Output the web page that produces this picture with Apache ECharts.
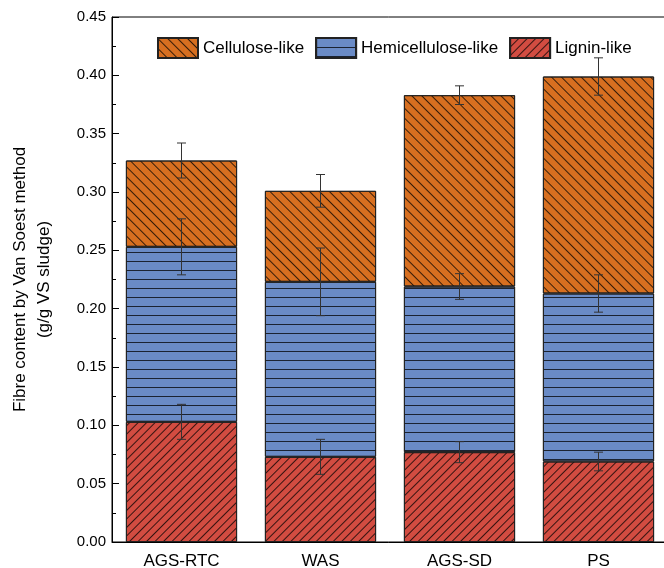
<!DOCTYPE html>
<html>
<head>
<meta charset="utf-8">
<script src="https://cdn.jsdelivr.net/npm/echarts@6/dist/echarts.min.js"></script>
<style>
    html, body { margin: 0; padding: 0; background: #fff; }
    #chart { width: 664px; height: 568px; }
</style>
</head>
<body>
<div id="chart"></div>
<script>
    // samples and stacked fractions (g/g VS sludge)
    var categories = ['AGS-RTC', 'WAS', 'AGS-SD', 'PS'];
    var lignin = [0.103, 0.073, 0.077, 0.069];
    var hemicellulose = [0.150, 0.150, 0.142, 0.144];
    var cellulose = [0.074, 0.078, 0.164, 0.186];
    // standard deviations, drawn at the top of each segment
    var ligninErr = [0.015, 0.015, 0.009, 0.008];
    var hemicelluloseErr = [0.024, 0.029, 0.011, 0.016];
    var celluloseErr = [0.015, 0.014, 0.008, 0.016];

    var FONT = 'Liberation Sans';

    // error bars sit on the cumulative top of each stacked segment
    var errData = [];
    categories.forEach(function (c, i) {
        var t1 = lignin[i];
        var t2 = t1 + hemicellulose[i];
        var t3 = t2 + cellulose[i];
        errData.push([i, t1 - ligninErr[i], t1 + ligninErr[i]]);
        errData.push([i, t2 - hemicelluloseErr[i], t2 + hemicelluloseErr[i]]);
        errData.push([i, t3 - celluloseErr[i], t3 + celluloseErr[i]]);
    });

    function stripes(gap, rot) {
        return {
            symbol: 'rect',
            symbolSize: 1,
            color: 'rgba(0,0,0,0.75)',
            dashArrayX: [1, 0],
            dashArrayY: [1, gap],
            rotation: rot
        };
    }

    var chart = echarts.init(document.getElementById('chart'));
    var option = {
        animation: false,
        backgroundColor: '#fff',
        textStyle: { fontFamily: FONT },
        grid: {
            left: 112,
            top: 17,
            width: 556,
            bottom: 26,
            outerBoundsMode: 'none',
            containLabel: false,
            show: true,
            borderColor: '#000',
            borderWidth: 1
        },
        legend: {
            left: 152,
            top: 32,
            icon: 'rect',
            itemWidth: 40,
            itemHeight: 20,
            itemGap: 11,
            data: ['Cellulose-like', 'Hemicellulose-like', 'Lignin-like'],
            textStyle: { fontFamily: FONT, fontSize: 17, color: '#000', padding: [0, 0, 0, 0] }
        },
        xAxis: {
            type: 'category',
            data: categories,
            axisLine: { lineStyle: { color: '#000', width: 1 } },
            axisTick: { show: false },
            axisLabel: { fontFamily: FONT, fontSize: 17, color: '#000', margin: 11 }
        },
        yAxis: {
            type: 'value',
            min: 0,
            max: 0.45,
            interval: 0.05,
            name: 'Fibre content by Van Soest method\n(g/g VS sludge)',
            nameLocation: 'middle',
            nameGap: 56,
            nameTextStyle: { fontFamily: FONT, fontSize: 17, color: '#000', lineHeight: 24 },
            axisLine: { show: true, lineStyle: { color: '#000', width: 1 } },
            axisTick: { show: true, inside: true, length: 7, lineStyle: { color: '#000' } },
            minorTick: { show: true, splitNumber: 2, length: 4, lineStyle: { color: '#000' } },
            splitLine: { show: false },
            axisLabel: {
                fontFamily: FONT, fontSize: 15, color: '#000', margin: 6,
                formatter: function (v) { return v.toFixed(2); }
            }
        },
        series: [
            {
                name: 'Lignin-like',
                type: 'bar',
                stack: 'fibre',
                barWidth: '80%',
                data: lignin,
                itemStyle: {
                    color: '#d24c41',
                    borderColor: '#222',
                    borderWidth: 1,
                    decal: stripes(5, -Math.PI / 4)
                }
            },
            {
                name: 'Hemicellulose-like',
                type: 'bar',
                stack: 'fibre',
                data: hemicellulose,
                itemStyle: {
                    color: '#6a8bc6',
                    borderColor: '#222',
                    borderWidth: 1,
                    decal: stripes(7.3, 0)
                }
            },
            {
                name: 'Cellulose-like',
                type: 'bar',
                stack: 'fibre',
                data: cellulose,
                itemStyle: {
                    color: '#d76f20',
                    borderColor: '#222',
                    borderWidth: 1,
                    decal: stripes(6, Math.PI / 4)
                }
            },
            {
                type: 'custom',
                name: 'err',
                z: 10,
                data: errData,
                renderItem: function (params, api) {
                    var lo = api.coord([api.value(0), api.value(1)]);
                    var hi = api.coord([api.value(0), api.value(2)]);
                    var w = 4.5;
                    var st = { stroke: '#333', lineWidth: 1 };
                    return {
                        type: 'group',
                        children: [
                            { type: 'line', shape: { x1: hi[0], y1: hi[1], x2: lo[0], y2: lo[1] }, style: st },
                            { type: 'line', shape: { x1: hi[0] - w, y1: hi[1], x2: hi[0] + w, y2: hi[1] }, style: st },
                            { type: 'line', shape: { x1: lo[0] - w, y1: lo[1], x2: lo[0] + w, y2: lo[1] }, style: st }
                        ]
                    };
                }
            }
        ]
    };
    chart.setOption(option);
</script>
</body>
</html>
